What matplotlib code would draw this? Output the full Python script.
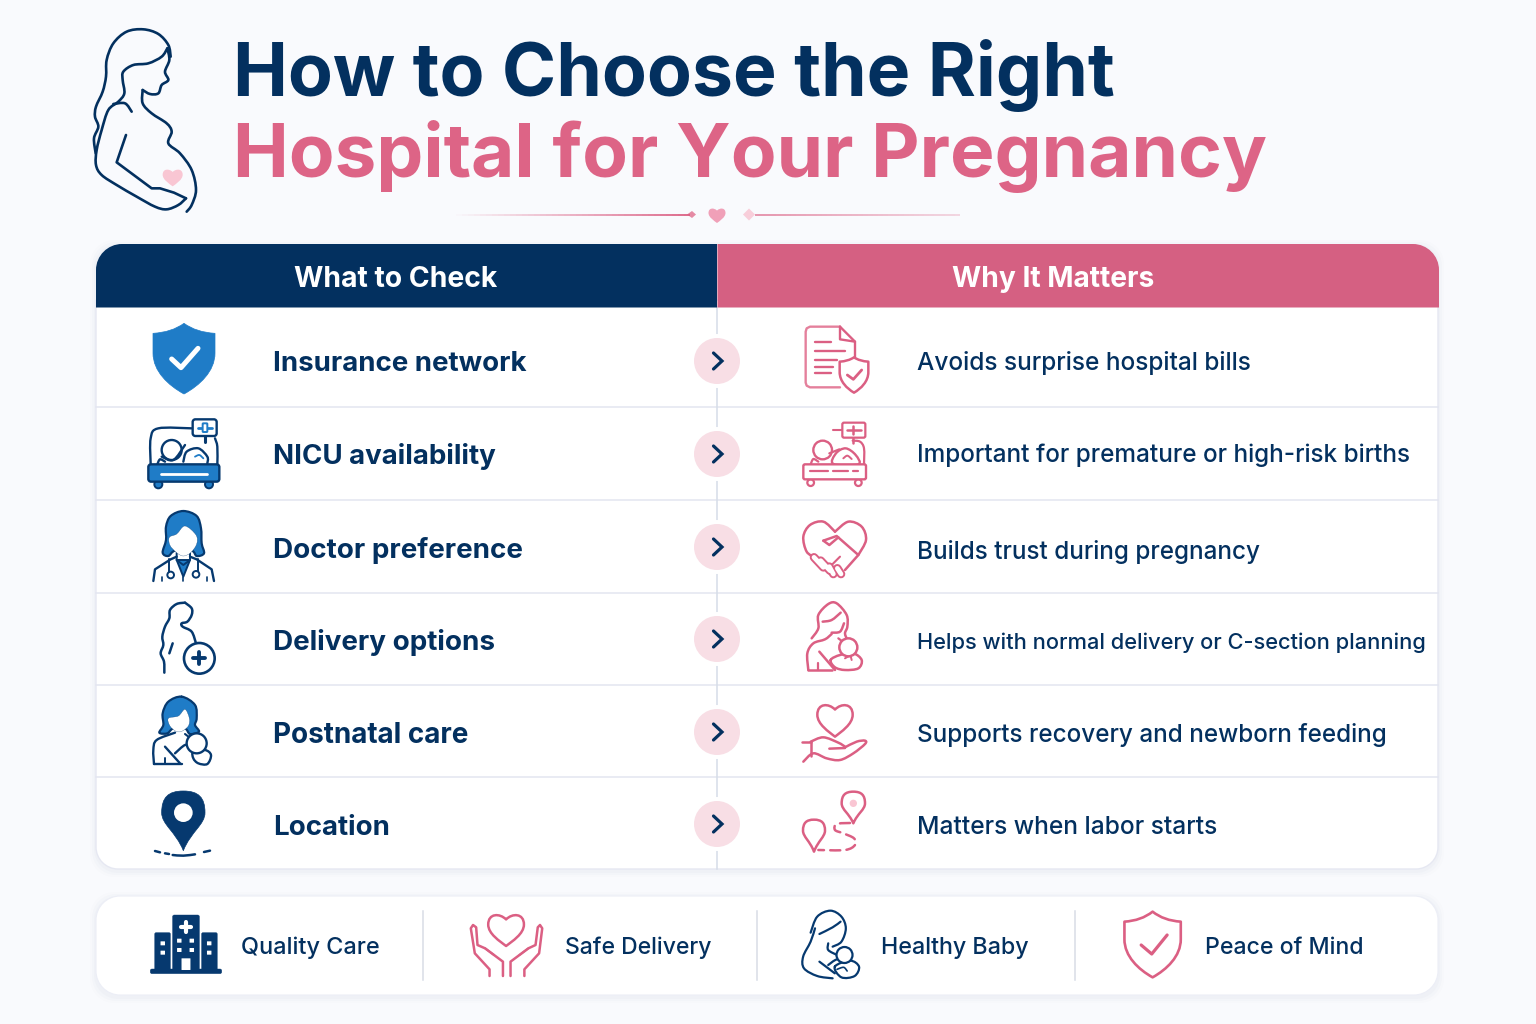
import numpy as np
import matplotlib
matplotlib.use('Agg')
import matplotlib.pyplot as pl
from matplotlib.path import Path
from matplotlib.patches import PathPatch, Circle

title_top = 'How to Choose the Right'
title_bottom = 'Hospital for Your Pregnancy'
header_left = 'What to Check'
header_right = 'Why It Matters'
checks = ['Insurance network', 'NICU availability', 'Doctor preference',
          'Delivery options', 'Postnatal care', 'Location']
reasons = ['Avoids surprise hospital bills',
           'Important for premature or high-risk births',
           'Builds trust during pregnancy',
           'Helps with normal delivery or C-section planning',
           'Supports recovery and newborn feeding',
           'Matters when labor starts']
benefits = ['Quality Care', 'Safe Delivery', 'Healthy Baby', 'Peace of Mind']

# layout, in picture pixels
check_base = [371, 464, 558, 650, 743, 835]
check_w = [254, 223, 250, 222, 196, 117]
reason_base = [370, 462, 559, 649, 742, 834]
reason_w = [335, 495, 344, 509, 471, 301]
arrow_y = [361, 454, 547, 639, 732, 824]
row_lines = [407, 500, 593, 685, 777]
benefit_x = [241, 565, 881, 1205]
benefit_w = [138, 146, 147, 158]
benefit_div = [423, 757, 1075]

NAVY = '#03305F'
DEEP = '#06396F'
BLUE = '#1F7CC7'
PINK = '#DB5F83'
HEAD_PINK = '#D56082'
PALE = '#F9C6D3'
LINE = '#E3E6F0'

pl.rcParams['font.family'] = ['Inter', 'DejaVu Sans']
fig = pl.figure(figsize=(15.36, 10.24), dpi=100, facecolor='#F9FAFD')
ax = fig.add_axes([0, 0, 1, 1])
ax.set_xlim(0, 1536)
ax.set_ylim(1024, 0)
ax.axis('off')
rend = fig.canvas.get_renderer()

XS = 3.  # crop scale of the icon sketches, the wide crops were squeezed


def spline(p, closed=False):
    # catmull-rom through the points
    p = np.array(p, float)
    if closed:
        q = np.vstack([p[-1], p, p[0], p[1]])
    else:
        q = np.vstack([p[0], p, p[-1]])
    v, c = [q[1]], [Path.MOVETO]
    for i in range(1, len(q) - 2):
        v += [q[i] + (q[i+1]-q[i-1])/6, q[i+1] - (q[i+2]-q[i])/6, q[i+1]]
        c += [Path.CURVE4]*3
    return Path(np.array(v), c)


def to_px(o, p):
    return [(x/XS + o[0], y/3. + o[1]) for x, y in p]


def sl(o, p, col, lw=1.9, closed=False, fill='none', ls='-', z=5):
    ax.add_patch(PathPatch(spline(to_px(o, p), closed), fc=fill, ec=col, lw=lw,
                           ls=ls, capstyle='round', joinstyle='round', zorder=z))


def st(o, p, col, lw=1.9, closed=False, fill='none', z=5):
    # straight segments
    p = to_px(o, p)
    if closed:
        p = p + [p[0]]
    ax.add_patch(PathPatch(Path(p), fc=fill, ec=col, lw=lw, capstyle='round',
                           joinstyle='round', zorder=z))


def dot(o, x, y, r, col, fill='none', lw=1.9, z=5):
    (px, py), = to_px(o, [(x, y)])
    ax.add_patch(Circle((px, py), r/3., fc=fill, ec=col, lw=lw, zorder=z))


def rrect(x0, y0, x1, y1, tl, tr, br, bl):
    k = 0.45
    v = [(x0+tl, y0), (x1-tr, y0), (x1-tr*k, y0), (x1, y0+tr*k), (x1, y0+tr),
         (x1, y1-br), (x1, y1-br*k), (x1-br*k, y1), (x1-br, y1),
         (x0+bl, y1), (x0+bl*k, y1), (x0, y1-bl*k), (x0, y1-bl),
         (x0, y0+tl), (x0, y0+tl*k), (x0+tl*k, y0), (x0+tl, y0), (x0+tl, y0)]
    c = [Path.MOVETO, Path.LINETO] + [Path.CURVE4]*3 + [Path.LINETO] + [Path.CURVE4]*3 + \
        [Path.LINETO] + [Path.CURVE4]*3 + [Path.LINETO] + [Path.CURVE4]*3 + [Path.CLOSEPOLY]
    return Path(v, c)


def box(o, x0, y0, x1, y1, r, col, fill='none', lw=1.9, z=5):
    (a, b), (c, d) = to_px(o, [(x0, y0), (x1, y1)])
    r = r/3.
    ax.add_patch(PathPatch(rrect(a, b, c, d, r, r, r, r), fc=fill, ec=col, lw=lw, zorder=z))


def heart(o, cx, top, hw, h, col, fill='none', lw=1.9, z=5):
    notch = top + h*0.17
    tip = top + h
    v = [(cx, notch),
         (cx-hw*0.35, top-h*0.03), (cx-hw, top-h*0.03), (cx-hw, top+h*0.33),
         (cx-hw, top+h*0.62), (cx-hw*0.35, top+h*0.85), (cx, tip),
         (cx+hw*0.35, top+h*0.85), (cx+hw, top+h*0.62), (cx+hw, top+h*0.33),
         (cx+hw, top-h*0.03), (cx+hw*0.35, top-h*0.03), (cx, notch), (cx, notch)]
    c = [Path.MOVETO] + [Path.CURVE4]*12 + [Path.CLOSEPOLY]
    ax.add_patch(PathPatch(Path(to_px(o, v), c), fc=fill, ec=col, lw=lw,
                           joinstyle='round', zorder=z))


def shield(o, cx, top, hw, sh, h, col, fill='none', lw=1.9, z=5):
    v = [(cx, top),
         (cx+hw*0.4, top+sh*0.9), (cx+hw, top+sh),
         (cx+hw, top+h*0.42),
         (cx+hw, top+h*0.68), (cx+hw*0.5, top+h*0.88), (cx, top+h),
         (cx-hw*0.5, top+h*0.88), (cx-hw, top+h*0.68), (cx-hw, top+h*0.42),
         (cx-hw, top+sh),
         (cx-hw*0.4, top+sh*0.9), (cx, top), (cx, top)]
    c = [Path.MOVETO, Path.CURVE3, Path.CURVE3, Path.LINETO] + [Path.CURVE4]*6 + \
        [Path.LINETO, Path.CURVE3, Path.CURVE3, Path.CLOSEPOLY]
    ax.add_patch(PathPatch(Path(to_px(o, v), c), fc=fill, ec=col, lw=lw,
                           joinstyle='round', zorder=z))


def pin(o, cx, cy, r, tip, col, fill='none', lw=1.9, z=5):
    k = 0.7*r
    v = [(cx, tip),
         (cx-r*0.35, tip-(tip-cy)*0.5), (cx-r, cy+r*0.55), (cx-r, cy),
         (cx-r, cy-k), (cx-k, cy-r), (cx, cy-r),
         (cx+k, cy-r), (cx+r, cy-k), (cx+r, cy),
         (cx+r, cy+r*0.55), (cx+r*0.35, tip-(tip-cy)*0.5), (cx, tip), (cx, tip)]
    c = [Path.MOVETO] + [Path.CURVE4]*12 + [Path.CLOSEPOLY]
    ax.add_patch(PathPatch(Path(to_px(o, v), c), fc=fill, ec=col, lw=lw,
                           joinstyle='round', zorder=z))


def label(s, x, base, width, size, col, weight, ha='left'):
    t = ax.text(x, base, s, color=col, fontsize=size, fontweight=weight, ha=ha,
                va='baseline', zorder=8)
    t.set_fontsize(size*width/t.get_window_extent(rend).width)
    return t


# title
label(title_top, 233, 96, 882, 55, NAVY, 'bold')
label(title_bottom, 233, 177, 1033, 55, '#DD6486', 'bold')

# ornament below the title
for x0, x1, a0, a1 in [(450, 690, 0.0, 1.0), (960, 755, 0.25, 0.7)]:
    xs = np.linspace(x0, x1, 41)
    for i in range(40):
        ax.plot(xs[i:i+2], [214.5]*2, color=PINK, lw=1.3, solid_capstyle='butt',
                alpha=a0 + (a1-a0)*i/39.)
ax.fill([687, 692, 696, 692], [214.5, 211, 214.5, 218], color='#E58AA4', lw=0)
ax.fill([743, 749, 755, 749], [214.5, 208.5, 214.5, 220.5], color='#F8CEDA', lw=0)
heart((0, 0), 717*3, 208*3, 8.5*3, 15*3, '#F0A0B8', fill='#F0A0B8', lw=0)

# soft card shadows, then the table card
for grow, a in [(6, 0.012), (4, 0.018), (2, 0.025)]:
    for y0, y1 in [(244, 869), (896, 995)]:
        ax.add_patch(PathPatch(rrect(96-grow, y0-grow+2, 1438+grow, y1+grow+2, 24, 24, 24, 24),
                               fc='#5A6A9A', ec='none', alpha=a, zorder=1))
ax.add_patch(PathPatch(rrect(96, 300, 1438, 869, 0, 0, 22, 22), fc='white', ec='#E6E8F2',
                       lw=1, zorder=2))
ax.add_patch(PathPatch(rrect(96, 244, 717, 307.5, 26, 0, 0, 0), fc=NAVY, ec='none', zorder=3))
ax.add_patch(PathPatch(rrect(717.5, 244, 1439, 307.5, 0, 26, 0, 0), fc=HEAD_PINK, ec='none', zorder=3))
label(header_left, 294, 287, 204, 20, 'white', 'bold')
label(header_right, 952, 287, 203, 20, 'white', 'bold')

for y in row_lines:
    ax.plot([96, 1438], [y, y], color=LINE, lw=1.1, zorder=2.5)
ax.plot([717, 717], [307, 869], color='#D6DDE8', lw=1.1, zorder=2.6)

for y in arrow_y:
    ax.add_patch(Circle((717, y), 27, fc='white', ec='none', zorder=3))
    ax.add_patch(Circle((717, y), 23, fc='#F8DEE5', ec='none', zorder=4))
    ax.plot([713.5, 722, 713.5], [y-8, y, y+8], color=NAVY, lw=2.3,
            solid_capstyle='round', solid_joinstyle='miter', zorder=5)

for s, b, w in zip(checks, check_base, check_w):
    label(s, 273, b, w, 20, NAVY, 'bold')
for s, b, w in zip(reasons, reason_base, reason_w):
    label(s, 917, b, w, 18.5, NAVY, 'medium')

# pregnant woman beside the title
o = (80, 10)
sl(o, [(272, 140), (265, 105), (235, 72), (190, 58), (140, 65), (100, 100), (80, 150), (78, 200),
       (68, 245), (48, 290), (45, 320), (55, 350), (42, 385), (47, 430)], NAVY, 1.9)
sl(o, [(262, 115), (245, 140), (205, 160), (160, 165), (130, 185), (128, 210), (133, 250),
       (115, 275), (85, 300), (65, 360), (50, 420), (48, 465), (65, 495), (110, 525), (170, 560),
       (225, 590), (260, 598), (295, 585), (318, 565)], NAVY, 1.9)
sl(o, [(262, 115), (268, 150), (255, 185), (265, 210), (245, 225), (235, 250), (210, 252), (188, 240)], NAVY, 1.9)
sl(o, [(188, 240), (188, 280), (215, 310), (260, 340), (275, 365), (265, 400), (300, 430),
       (335, 480), (348, 540), (335, 585), (320, 605)], NAVY, 1.9)
sl(o, [(100, 282), (135, 280), (155, 305)], NAVY, 1.9)
st(o, [(138, 375), (110, 457), (215, 535), (240, 535), (282, 548), (318, 565)], NAVY, 1.9)
heart(o, 278, 477, 30, 52, PALE, fill=PALE, lw=0)

# left column icons
o = (130, 310)
shield(o, 162, 40, 93, 30, 212, BLUE, fill=BLUE, lw=0.5)
st(o, [(125, 147), (153, 173), (204, 115)], 'white', 3.6)

box(o, 188, 328, 260, 378, 8, DEEP, fill='white', lw=1.7, z=6)
st(o, [(204, 353), (246, 353)], BLUE, 2.0, z=7)
box(o, 218, 340, 232, 366, 2, BLUE, fill='white', lw=1.4, z=7)
st(o, [(225, 378), (225, 395)], DEEP, 2.2)
sl(o, [(62, 463), (62, 385), (85, 355), (185, 355)], DEEP, 1.7)
sl(o, [(255, 385), (262, 410), (262, 463)], DEEP, 1.7)
dot(o, 125, 420, 30, DEEP, fill='white', lw=1.7)
sl(o, [(160, 455), (170, 425), (205, 415), (232, 440), (232, 460)], DEEP, 1.7)
sl(o, [(95, 440), (130, 450), (165, 405)], DEEP, 1.7)
sl(o, [(195, 440), (208, 435), (220, 445)], BLUE, 1.3)
sl(o, [(82, 463), (90, 448), (105, 455)], DEEP, 1.7)
box(o, 55, 463, 268, 515, 8, DEEP, fill=BLUE, lw=1.7)
st(o, [(92, 491), (230, 491)], 'white', 2.0, z=6)
dot(o, 85, 523, 12, DEEP, fill=BLUE, lw=1.4, z=4)
dot(o, 237, 523, 12, DEEP, fill=BLUE, lw=1.4, z=4)

# doctor
sl(o, [(160, 603), (200, 618), (213, 655), (215, 700), (222, 730), (200, 738), (185, 722), (135, 722),
       (115, 738), (98, 728), (108, 690), (108, 650), (122, 618)], DEEP, 1.6, closed=True, fill=BLUE)
sl(o, [(118, 682), (140, 672), (165, 648), (198, 675), (200, 702), (182, 728), (160, 738),
       (140, 728), (120, 706)], DEEP, 0.2, closed=True, fill='white', z=6)
st(o, [(140, 750), (160, 800), (180, 750)], DEEP, 1.4, closed=True, fill=BLUE, z=4)
st(o, [(140, 728), (140, 750), (160, 765), (180, 750), (180, 728)], DEEP, 1.4, z=4)
st(o, [(70, 813), (75, 778), (122, 748), (140, 740)], DEEP, 1.7)
st(o, [(252, 813), (245, 778), (200, 748), (180, 740)], DEEP, 1.7)
st(o, [(118, 748), (118, 785)], DEEP, 1.4)
st(o, [(205, 748), (205, 783)], DEEP, 1.4)
dot(o, 122, 795, 10, DEEP, lw=1.4)
dot(o, 198, 793, 10, DEEP, lw=1.4)
st(o, [(160, 800), (160, 813)], DEEP, 1.2)
st(o, [(95, 800), (95, 813)], DEEP, 1.2)
st(o, [(230, 800), (230, 813)], DEEP, 1.2)

o = (130, 590)
sl(o, [(165, 38), (140, 42), (120, 60), (118, 85), (105, 110), (97, 140), (100, 165), (92, 190),
       (102, 215), (103, 248)], DEEP, 1.8)
sl(o, [(165, 38), (185, 55), (185, 75), (172, 95), (155, 100), (158, 110), (185, 125), (198, 160)], DEEP, 1.8)
st(o, [(128, 160), (118, 190)], DEEP, 1.8)
dot(o, 208, 205, 46, DEEP, fill='white', lw=1.9)
st(o, [(208, 187), (208, 223)], DEEP, 2.8)
st(o, [(190, 205), (226, 205)], DEEP, 2.8)

# mother and baby
sl(o, [(155, 320), (195, 345), (200, 385), (195, 405), (207, 425), (180, 432), (165, 415), (130, 415),
       (112, 430), (88, 428), (100, 405), (98, 370), (115, 335)], DEEP, 1.6, closed=True, fill=BLUE)
sl(o, [(115, 385), (145, 378), (165, 358), (178, 385), (175, 408), (155, 424), (138, 424), (120, 408)],
   DEEP, 0.2, closed=True, fill='white', z=6)
sl(o, [(72, 522), (70, 480), (80, 450), (135, 428)], DEEP, 1.7)
st(o, [(72, 522), (155, 522)], DEEP, 1.7)
st(o, [(105, 470), (150, 520)], DEEP, 1.7)
st(o, [(105, 505), (105, 522)], DEEP, 1.4)
sl(o, [(135, 490), (165, 465), (185, 470)], DEEP, 1.7)
sl(o, [(165, 432), (178, 442)], DEEP, 1.5)
dot(o, 200, 460, 30, DEEP, fill='white', lw=1.7, z=6)
sl(o, [(190, 485), (225, 480), (243, 495), (232, 522), (205, 520), (190, 505)], DEEP, 1.7,
   closed=True, fill='white', z=5)

pin(o, 160, 668, 65, 782, DEEP, fill=DEEP, lw=0.5)
dot(o, 160, 668, 28, 'white', fill='white', lw=0)
for seg in [[(75, 783), (90, 787)], [(105, 790), (117, 792)], [(128, 795), (160, 797), (195, 793)],
            [(222, 786), (240, 782)]]:
    sl(o, seg, DEEP, 1.8)

# right column icons
o = (790, 310)
st(o, [(150, 50), (60, 50), (50, 55), (47, 65), (47, 218), (50, 227), (60, 232), (150, 232)], '#E4809C', 1.7)
st(o, [(150, 50), (195, 95), (195, 155)], PINK, 1.7)
st(o, [(150, 50), (150, 88), (195, 95)], PINK, 1.7)
for x0, x1, y in [(75, 122, 97), (75, 165, 123), (75, 140, 150), (75, 130, 172), (75, 122, 188)]:
    st(o, [(x0, y), (x1, y)], PINK, 1.7)
shield(o, 192, 142, 43, 13, 106, PINK, fill='white', lw=1.8, z=6)
st(o, [(172, 195), (190, 208), (215, 180)], PINK, 2.0, z=7)

box(o, 157, 338, 226, 383, 5, PINK, fill='white', lw=1.6, z=6)
st(o, [(172, 360), (212, 360)], PINK, 1.8, z=7)
st(o, [(188, 348), (188, 373)], PINK, 1.8, z=7)
st(o, [(128, 360), (157, 360)], PINK, 1.5)
st(o, [(188, 383), (188, 398)], PINK, 1.8)
sl(o, [(188, 392), (210, 395), (222, 415), (222, 463)], PINK, 1.6)
dot(o, 98, 420, 28, PINK, fill='white', lw=1.7)
sl(o, [(130, 462), (138, 430), (167, 415), (197, 435), (205, 463)], PINK, 1.7, closed=True, fill='white')
sl(o, [(160, 445), (172, 437), (185, 447)], PINK, 1.4)
sl(o, [(62, 463), (70, 447), (85, 455)], PINK, 1.6)
st(o, [(118, 430), (148, 418)], PINK, 1.6)
box(o, 40, 463, 228, 508, 5, PINK, fill='white', lw=1.7)
for x0, x1 in [(60, 115), (130, 175), (190, 205)]:
    st(o, [(x0, 482), (x1, 482)], PINK, 1.6)
dot(o, 62, 518, 10, PINK, fill='white', lw=1.6, z=4)
dot(o, 205, 518, 10, PINK, fill='white', lw=1.6, z=4)

sl(o, [(135, 665), (100, 635), (60, 645), (40, 680), (50, 725), (75, 742)], PINK, 1.8)
sl(o, [(135, 665), (175, 635), (215, 650), (228, 690), (205, 735)], PINK, 1.8)
st(o, [(100, 692), (140, 678), (205, 735), (165, 780)], PINK, 1.8)
st(o, [(100, 692), (118, 705), (145, 682)], PINK, 1.8)
st(o, [(150, 740), (120, 770)], PINK, 1.5)
for a, b in [((72, 742), (100, 772)), ((92, 752), (120, 782)), ((118, 770), (130, 792)), ((142, 775), (153, 792))]:
    st(o, [a, b], PINK, 6.2, z=5)
    st(o, [a, b], 'white', 3.4, z=5.5)

o = (790, 590)
sl(o, [(65, 145), (85, 115), (85, 75), (115, 42), (140, 40), (170, 75), (172, 110), (165, 130), (172, 150)], PINK, 1.8)
sl(o, [(98, 95), (125, 90), (152, 68)], PINK, 1.8)
sl(o, [(125, 128), (150, 125), (162, 100)], PINK, 1.8)
sl(o, [(55, 240), (52, 190), (70, 160), (105, 148), (125, 132)], PINK, 1.8)
st(o, [(55, 240), (125, 240)], PINK, 1.8)
st(o, [(85, 218), (85, 240)], PINK, 1.6)
st(o, [(88, 185), (135, 240)], PINK, 1.8)
sl(o, [(145, 145), (158, 155)], PINK, 1.6)
dot(o, 175, 172, 27, PINK, fill='white', lw=1.8, z=6)
sl(o, [(122, 210), (150, 195), (190, 190), (215, 210), (205, 235), (165, 240), (135, 232)], PINK, 1.8,
   closed=True, fill='white')
sl(o, [(165, 205), (180, 198), (185, 210)], PINK, 1.4)

heart(o, 135, 342, 53, 98, PINK, lw=1.8)
st(o, [(35, 455), (62, 455)], PINK, 1.8)
st(o, [(62, 455), (62, 497)], PINK, 1.8)
sl(o, [(62, 455), (100, 442), (145, 458), (165, 470)], PINK, 1.8)
st(o, [(118, 476), (165, 474)], PINK, 1.8)
sl(o, [(165, 472), (200, 455), (225, 452), (225, 462), (190, 490), (150, 510), (110, 505), (70, 490), (40, 515)], PINK, 1.8)

pin(o, 190, 640, 35, 700, PINK, lw=1.8)
dot(o, 190, 640, 11, PALE, fill=PALE, lw=0)
pin(o, 72, 722, 33, 785, PINK, lw=1.8)
sl(o, [(180, 699), (140, 702), (135, 720), (160, 730), (192, 745), (195, 765), (165, 780), (85, 780)],
   PINK, 1.8, ls=(0, (4, 2.5)))

# bottom strip
ax.add_patch(PathPatch(rrect(96, 896, 1438, 995, 24, 24, 24, 24), fc='white', ec='#ECEEF6', lw=0.8, zorder=2))
for x in benefit_div:
    ax.plot([x, x], [911, 980], color='#D8DCE6', lw=1.1, zorder=3)
for s, x, w in zip(benefits, benefit_x, benefit_w):
    label(s, x, 954, w, 18, NAVY, 'medium')

XS = 2.24
o = (90, 890)
box(o, 185, 75, 245, 240, 5, DEEP, fill=DEEP, lw=0.3)
box(o, 145, 128, 180, 240, 4, DEEP, fill=DEEP, lw=0.3)
box(o, 250, 128, 285, 240, 4, DEEP, fill=DEEP, lw=0.3)
box(o, 135, 237, 295, 251, 5, DEEP, fill=DEEP, lw=0.3)
st(o, [(215, 95), (215, 127)], 'white', 3.0, z=6)
st(o, [(203, 111), (227, 111)], 'white', 3.0, z=6)
for x, y in [(200, 152), (228, 152), (200, 180), (228, 180), (163, 160), (163, 188), (267, 160), (267, 188)]:
    box(o, x-5, y-6, x+5, y+6, 1, 'white', fill='white', lw=0, z=6)
box(o, 205, 205, 225, 240, 1, 'white', fill='white', lw=0, z=6)

heart(o, 932, 72, 40, 96, PINK, lw=1.8)
st(o, [(895, 258), (895, 238), (862, 190), (853, 115), (858, 105), (865, 112), (868, 165), (885, 175),
       (925, 215), (925, 258)], PINK, 1.8)
st(o, [(942, 258), (942, 215), (982, 175), (998, 165), (1003, 112), (1008, 105), (1013, 115), (1006, 190),
       (973, 238), (973, 258)], PINK, 1.8)
st(o, [(885, 175), (905, 195)], PINK, 1.4)
st(o, [(982, 175), (962, 195)], PINK, 1.4)

XS = 2.272
o = (760, 890)
sl(o, [(115, 128), (130, 80), (160, 62), (185, 80), (195, 115), (185, 155), (165, 170)], DEEP, 1.6)
sl(o, [(135, 132), (165, 112), (183, 95)], DEEP, 1.6)
sl(o, [(125, 115), (115, 155), (98, 200), (100, 235), (130, 258), (165, 265)], DEEP, 1.6)
sl(o, [(155, 160), (155, 180), (175, 195)], DEEP, 1.6)
st(o, [(135, 215), (170, 250)], DEEP, 1.6)
sl(o, [(155, 225), (175, 208), (200, 210)], DEEP, 1.6)
dot(o, 192, 195, 24, DEEP, fill='white', lw=1.6, z=6)
sl(o, [(170, 230), (205, 212), (225, 230), (215, 258), (185, 262)], DEEP, 1.6, closed=True, fill='white')
sl(o, [(175, 238), (190, 232), (198, 243)], DEEP, 1.2)

shield(o, 892, 65, 64, 30, 197, PINK, lw=1.9)
st(o, [(866, 165), (890, 192), (925, 135)], PINK, 2.3)

fig.savefig('out.png', dpi=100, facecolor=fig.get_facecolor())
